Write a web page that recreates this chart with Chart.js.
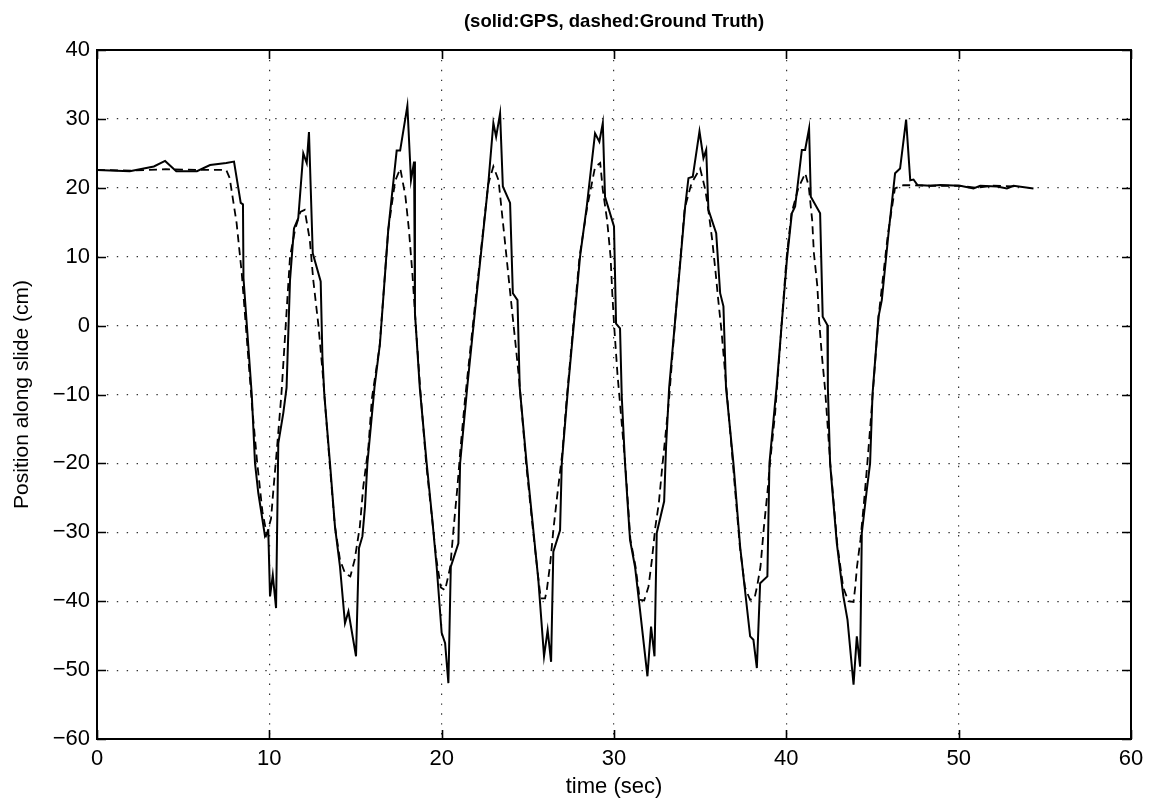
<!DOCTYPE html>
<html>
<head>
<meta charset="utf-8">
<title>GPS vs Ground Truth</title>
<script src="https://cdn.jsdelivr.net/npm/chart.js@4.4.1/dist/chart.umd.min.js"></script>
<style>
  html, body { margin: 0; padding: 0; background: #fff; }
  canvas { display: block; }
</style>
</head>
<body>
<canvas id="chart" width="1157" height="805"></canvas>
<script>
// GPS position estimate (solid line): time in seconds, position in cm
const gpsTime = [0,1.9,3.3,3.95,4.6,5.8,6.56,7.5,7.95,8.34,8.47,8.5,8.98,9.17,9.36,9.75,9.94,10.04,10.2,10.39,
  10.52,10.81,11.0,11.2,11.43,11.68,11.97,12.17,12.3,12.52,12.98,13.08,13.19,13.52,13.81,14.1,14.39,14.59,15.03,
  15.2,15.4,15.55,15.69,16.1,16.42,16.9,17.39,17.59,18.01,18.22,18.4,18.45,18.73,19.13,19.42,19.71,20.0,20.2,20.39,
  20.53,20.97,21.07,21.5,22.04,22.71,23.0,23.16,23.39,23.55,23.97,24.13,24.4,24.53,24.93,25.32,25.61,25.94,26.15,
  26.35,26.48,26.87,26.97,27.35,28.03,28.42,28.9,29.15,29.35,29.48,30.0,30.12,30.35,30.45,30.64,30.93,31.22,31.51,
  31.94,32.15,32.35,32.48,32.91,33.02,33.2,33.55,34.13,34.32,34.57,34.96,35.19,35.35,35.48,35.93,36.16,36.35,36.5,
  36.93,37.32,37.9,38.09,38.29,38.48,38.9,39.02,39.45,40.03,40.32,40.51,40.9,41.09,41.32,41.42,41.96,42.11,42.38,
  42.41,42.54,42.93,43.31,43.55,43.9,44.09,44.28,44.38,44.67,44.86,45.0,45.35,45.54,45.93,46.31,46.6,46.95,47.19,
  47.38,47.61,48.35,48.93,50.09,50.86,51.25,52.22,52.8,53.18,54.34];
const gpsPos = [22.6,22.4,23.1,23.9,22.4,22.4,23.3,23.6,23.8,17.8,17.6,6.9,-10,-20,-24.3,-30.6,-29.9,-39.3,-36.2,-41.0,
  -17.1,-12.7,-9,6.6,14.1,15.6,25.0,23.6,28.1,10.5,6.4,-4.5,-10,-20,-29.2,-35,-43.2,-41.5,-48.0,
  -32.3,-30.6,-26.3,-20,-9,-2.6,13.9,25.4,25.4,31.9,21.1,23.8,1.8,-9,-20,-27.2,-35,-44.6,-46.1,-51.9,
  -35,-31.6,-20,-8.5,4.7,20.7,29.4,27.4,30.8,20.2,17.8,4.7,3.7,-9,-20,-29.7,-36.9,-48,-44.2,
  -48.8,-32.8,-29.7,-20,-8.5,10,17.3,27.9,26.7,29.4,18.7,14.4,0.3,-0.4,-10.3,-20,-31.1,-35,-41.3,
  -50.9,-43.7,-48,-30.1,-25.5,-17.6,-9,0.8,17.3,21.4,21.6,28.2,24.3,25.5,16.8,13.4,4.7,2.8,-9,
  -20,-32.1,-45.1,-45.6,-49.7,-37.4,-36.4,-20,-8.5,9.5,16.3,17.3,25.5,25.5,28.6,18.7,16.3,1.3,0.1,
  -9,-20,-31.6,-39.3,-42.7,-52.1,-45.1,-49.5,-30.1,-23.8,-20,-10,1.3,3.7,13.4,22.1,22.8,29.9,21.1,
  21.2,20.4,20.3,20.4,20.3,19.9,20.3,20.2,19.9,20.3,19.9];

// Ground-truth position of the slide (dashed line)
const truthTime = [0,2,4,6,7.5,7.7,8.1,8.4,8.7,9.0,9.3,9.6,9.85,10.1,10.25,10.45,10.7,10.85,11.2,11.5,11.8,12.05,
  12.35,12.55,12.85,13.1,13.5,13.8,14.1,14.4,14.7,14.95,15.25,15.45,15.75,15.95,16.4,16.9,17.3,17.6,17.9,18.1,18.3,
  18.45,18.75,19.1,19.4,19.7,19.95,20.2,20.5,20.7,20.9,21.1,21.35,22.0,22.7,23.0,23.3,23.5,23.7,23.9,24.1,24.3,24.5,
  24.9,25.3,25.6,25.75,26.0,26.1,26.3,26.5,26.7,27.0,27.25,28.0,28.45,28.9,29.2,29.35,29.6,29.8,29.9,30.0,30.2,
  30.65,30.95,31.25,31.5,31.75,32.0,32.2,32.4,32.6,32.8,33.0,33.2,33.55,34.1,34.5,35.0,35.3,35.5,35.7,35.9,36.05,
  36.25,36.4,36.9,37.3,37.6,37.9,38.15,38.3,38.5,38.7,38.9,39.05,39.35,40.0,40.3,40.7,41.1,41.3,41.5,41.6,41.8,
  41.9,42.05,42.25,42.55,42.95,43.3,43.6,43.9,44.0,44.1,44.3,44.5,44.7,44.9,45.35,45.9,46.3,46.8,48,50,51,52,53.5];
const truthPos = [22.6,22.5,22.7,22.6,22.6,21.4,14.9,7.6,-2.1,-11.8,-20,-27,-30.3,-28,-23.4,-17.6,-10,-4,10,14,16.5,16.8,
  12.4,6.6,0,-7,-20,-29,-34,-36,-36.4,-34,-29.2,-23.4,-17.6,-10.6,-3,13.9,21,22.8,18.7,13.9,7.6,
  1.8,-9,-20,-27,-34,-38,-38.4,-35,-29.2,-23.8,-17.6,-10.8,4.5,20.5,23.1,21.1,16.3,11.5,6.6,1.8,-3,-8,
  -20,-29.7,-36.5,-39.6,-39.6,-38.4,-34.5,-29.2,-24.8,-18.5,-10.8,10,17.3,23,23.6,19.7,15.3,10,4.7,0.3,-7,
  -20,-31,-35,-39.8,-39.9,-37.9,-34,-29.2,-25.8,-20.5,-15.6,-10.5,0.8,17,20.7,22.8,19.7,16.3,12.4,7.6,3.7,
  -1.1,-5.5,-20,-32,-38,-39.8,-39.6,-37.9,-35,-29.2,-24.3,-20,-12.7,9.5,16.3,20,22.1,20.2,15.3,10.5,5.7,
  0.8,-4,-9.3,-20,-31.6,-38,-40,-40.1,-37.9,-35,-31.1,-25.8,-20,-13.7,1.3,13.4,19.9,20.4,20.3,20.3,20,20.3,20.2];

// Axis ranges and tick spacing
const xRange = [0, 60];
const yRange = [-60, 40];
const xStep = 10;
const yStep = 10;

const toPoints = (xs, ys) => xs.map((t, i) => ({ x: t, y: ys[i] }));

const FONT = "'Liberation Sans', Arial, Helvetica, sans-serif";

// Box around the plot with inward tick marks on all four sides
const framePlugin = {
  id: 'frame',
  afterDraw(chart) {
    const { ctx, chartArea: a, scales } = chart;
    const len = 9;
    ctx.save();
    ctx.strokeStyle = '#000';
    ctx.lineWidth = 1.6;
    ctx.beginPath();
    scales.x.ticks.forEach(t => {
      const px = Math.round(scales.x.getPixelForValue(t.value)) + 0.5;
      ctx.moveTo(px, a.bottom); ctx.lineTo(px, a.bottom - len);
      ctx.moveTo(px, a.top); ctx.lineTo(px, a.top + len);
    });
    scales.y.ticks.forEach(t => {
      const py = Math.round(scales.y.getPixelForValue(t.value)) + 0.5;
      ctx.moveTo(a.left, py); ctx.lineTo(a.left + len, py);
      ctx.moveTo(a.right, py); ctx.lineTo(a.right - len, py);
    });
    ctx.stroke();
    ctx.lineWidth = 2;
    ctx.strokeRect(a.left, a.top, a.right - a.left, a.bottom - a.top);
    ctx.restore();
  }
};

const minusSign = v => String(v).replace('-', '\u2212');

new Chart(document.getElementById('chart'), {
  type: 'line',
  data: {
    datasets: [
      {
        label: 'GPS',
        data: toPoints(gpsTime, gpsPos),
        borderColor: '#000',
        borderWidth: 2,
        pointRadius: 0,
        tension: 0,
        fill: false
      },
      {
        label: 'Ground Truth',
        data: toPoints(truthTime, truthPos),
        borderColor: '#000',
        borderWidth: 1.8,
        borderDash: [8, 5],
        pointRadius: 0,
        tension: 0,
        fill: false
      }
    ]
  },
  options: {
    responsive: false,
    devicePixelRatio: 1,
    animation: false,
    layout: { padding: { left: 0, right: 26, top: 0, bottom: 0 } },
    plugins: {
      legend: { display: false },
      tooltip: { enabled: false },
      title: {
        display: true,
        text: '(solid:GPS, dashed:Ground Truth)',
        fullSize: false,
        color: '#000',
        font: { family: FONT, size: 18.5, weight: 'bold' },
        padding: { top: 11, bottom: 16.8 }
      }
    },
    scales: {
      x: {
        type: 'linear',
        min: xRange[0],
        max: xRange[1],
        afterFit(scale) { scale.height = 66; },
        ticks: {
          stepSize: xStep,
          color: '#000',
          font: { family: FONT, size: 22 },
          padding: 7,
          maxRotation: 0,
          callback: minusSign
        },
        grid: {
          color: '#333',
          lineWidth: 1.2,
          drawTicks: false
        },
        border: { display: false, dash: [1.4, 8.5] },
        title: {
          display: true,
          text: 'time (sec)',
          color: '#000',
          font: { family: FONT, size: 22 },
          padding: { top: 0, bottom: 4.5 }
        }
      },
      y: {
        type: 'linear',
        min: yRange[0],
        max: yRange[1],
        afterFit(scale) { scale.width = 97; },
        ticks: {
          stepSize: yStep,
          color: '#000',
          font: { family: FONT, size: 22 },
          padding: 7,
          callback: minusSign
        },
        grid: {
          color: '#333',
          lineWidth: 1.2,
          drawTicks: false
        },
        border: { display: false, dash: [1.4, 8.5] },
        title: {
          display: true,
          text: 'Position along slide (cm)',
          color: '#000',
          font: { family: FONT, size: 21 },
          padding: { top: 9.5, bottom: 0 }
        }
      }
    }
  },
  plugins: [framePlugin]
});
</script>
</body>
</html>
